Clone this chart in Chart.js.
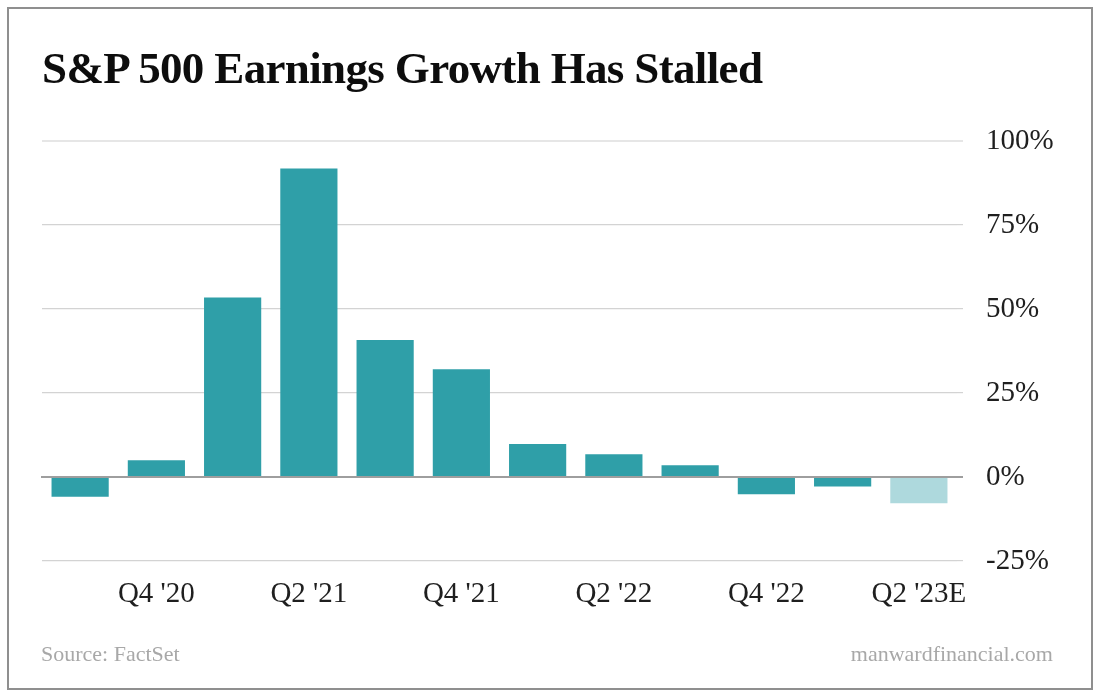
<!DOCTYPE html>
<html>
<head>
<meta charset="utf-8">
<script src="https://cdn.jsdelivr.net/npm/chart.js@4.4.1/dist/chart.umd.min.js"></script>
<style>
  html, body { margin: 0; padding: 0; background: #ffffff; }
  #wrap { position: relative; width: 1100px; height: 700px; overflow: hidden; background: #fff; }
  #frame { position: absolute; left: 7px; top: 7px; width: 1086px; height: 683px; box-sizing: border-box; border: 2px solid #8f8f8f; }
  #title { position: absolute; left: 42px; top: 46px; font-family: "Liberation Serif", serif; font-weight: bold; font-size: 45px; line-height: 45px; letter-spacing: -0.65px; color: #0d0d0d; white-space: nowrap; }
  #source { position: absolute; left: 41px; top: 643px; font-family: "Liberation Serif", serif; font-size: 22px; line-height: 22px; color: #a8a8a8; white-space: nowrap; }
  #site { position: absolute; right: 47px; top: 643px; font-family: "Liberation Serif", serif; font-size: 22px; line-height: 22px; color: #a8a8a8; white-space: nowrap; }
  #chartBox { position: absolute; left: 0; top: 0; width: 1100px; height: 700px; }
</style>
</head>
<body>
<div id="wrap">
  <div id="chartBox"><canvas id="c" width="1100" height="700"></canvas></div>
  <div id="frame"></div>
  <div id="title">S&amp;P 500 Earnings Growth Has Stalled</div>
  <div id="source">Source: FactSet</div>
  <div id="site">manwardfinancial.com</div>
</div>
<script>
// ---- Data ----
const quarters = ["Q3 '20", "Q4 '20", "Q1 '21", "Q2 '21", "Q3 '21", "Q4 '21", "Q1 '22", "Q2 '22", "Q3 '22", "Q4 '22", "Q1 '23", "Q2 '23E"];
const growthPct = [-5.9, 5.0, 53.4, 91.8, 40.8, 32.1, 9.8, 6.8, 3.5, -5.1, -2.8, -7.8];
const isEstimate = [false, false, false, false, false, false, false, false, false, false, false, true];
const yTicks = [-25, 0, 25, 50, 75, 100];

// ---- Styles ----
const actualColor = '#2f9fa8';
const estimateColor = '#aed9dd';
const tickFont = { family: "'Liberation Serif', serif", size: 29 };

const zeroLinePlugin = {
  id: 'zeroLine',
  afterDatasetsDraw(chart) {
    const y = chart.scales.y.getPixelForValue(0);
    const a = chart.chartArea;
    const ctx = chart.ctx;
    ctx.save();
    ctx.strokeStyle = '#9e9e9e';
    ctx.lineWidth = 2;
    ctx.beginPath();
    ctx.moveTo(a.left - 1, y);
    ctx.lineTo(a.right + 6, y);
    ctx.stroke();
    ctx.restore();
  }
};

new Chart(document.getElementById('c'), {
  type: 'bar',
  data: {
    labels: quarters,
    datasets: [{
      data: growthPct,
      backgroundColor: isEstimate.map(e => e ? estimateColor : actualColor),
      borderWidth: 0,
      barPercentage: 0.75,
      categoryPercentage: 1.0
    }]
  },
  options: {
    responsive: false,
    animation: false,
    devicePixelRatio: 1,
    layout: { padding: { left: 42, top: 141, right: 0, bottom: 0 } },
    plugins: { legend: { display: false }, tooltip: { enabled: false }, title: { display: false } },
    scales: {
      x: {
        grid: { display: false, drawTicks: false },
        border: { display: false },
        ticks: {
          autoSkip: false,
          maxRotation: 0,
          minRotation: 0,
          padding: 16,
          color: '#1f1f1f',
          font: tickFont,
          callback: function(value, index) { return index % 2 === 1 ? quarters[index] : ''; }
        },
        afterFit: function(scale) { scale.height = 139; }
      },
      y: {
        position: 'right',
        min: -25,
        max: 100,
        afterBuildTicks: function(scale) { scale.ticks = yTicks.map(v => ({ value: v })); },
        grid: {
          drawTicks: true,
          tickLength: 6,
          color: function(ctx) {
            const v = ctx.tick ? ctx.tick.value : null;
            if (v === 100) return '#e6e6e6';
            if (v === 0) return 'rgba(0,0,0,0)';
            return '#d3d3d3';
          },
          lineWidth: function(ctx) {
            const v = ctx.tick ? ctx.tick.value : null;
            if (v === 100) return 2;
            return 1.2;
          }
        },
        border: { display: false },
        ticks: {
          padding: 23,
          color: '#1f1f1f',
          font: tickFont,
          callback: function(value) { return value + '%'; }
        },
        afterFit: function(scale) { scale.width = 143; }
      }
    }
  },
  plugins: [zeroLinePlugin]
});
</script>
</body>
</html>
